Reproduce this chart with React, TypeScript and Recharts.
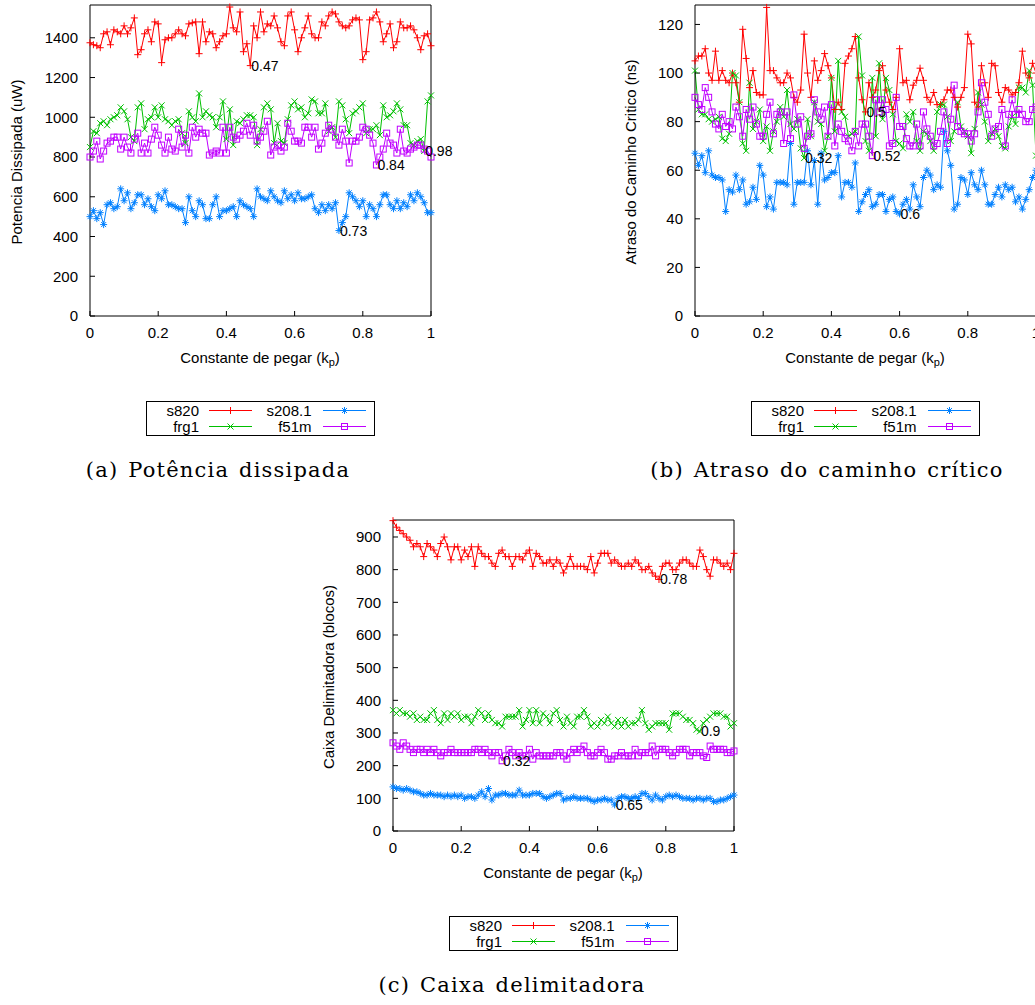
import { LineChart, Line, XAxis, YAxis, ReferenceDot } from "recharts"

// constante de pegar (k_p), 0..1 in steps of 0.01
const KP = [
  0, 0.01, 0.02, 0.03, 0.04, 0.05, 0.06, 0.07, 0.08, 0.09,
  0.1, 0.11, 0.12, 0.13, 0.14, 0.15, 0.16, 0.17, 0.18, 0.19,
  0.2, 0.21, 0.22, 0.23, 0.24, 0.25, 0.26, 0.27, 0.28, 0.29,
  0.3, 0.31, 0.32, 0.33, 0.34, 0.35, 0.36, 0.37, 0.38, 0.39,
  0.4, 0.41, 0.42, 0.43, 0.44, 0.45, 0.46, 0.47, 0.48, 0.49,
  0.5, 0.51, 0.52, 0.53, 0.54, 0.55, 0.56, 0.57, 0.58, 0.59,
  0.6, 0.61, 0.62, 0.63, 0.64, 0.65, 0.66, 0.67, 0.68, 0.69,
  0.7, 0.71, 0.72, 0.73, 0.74, 0.75, 0.76, 0.77, 0.78, 0.79,
  0.8, 0.81, 0.82, 0.83, 0.84, 0.85, 0.86, 0.87, 0.88, 0.89,
  0.9, 0.91, 0.92, 0.93, 0.94, 0.95, 0.96, 0.97, 0.98, 0.99,
  1,
]
const X_TICKS = [0, 0.2, 0.4, 0.6, 0.8, 1]

// (a) Potencia dissipada (uW)
const POT_S820 = [
  1375, 1365, 1360, 1350, 1420, 1430, 1365, 1440, 1430, 1420,
  1460, 1420, 1450, 1500, 1315, 1340, 1420, 1440, 1380, 1480,
  1470, 1275, 1390, 1400, 1400, 1420, 1440, 1420, 1410, 1470,
  1475, 1480, 1320, 1480, 1380, 1430, 1420, 1350, 1380, 1410,
  1420, 1555, 1450, 1430, 1530, 1330, 1370, 1260, 1460, 1400,
  1530, 1430, 1470, 1460, 1510, 1450, 1380, 1360, 1510, 1530,
  1440, 1330, 1400, 1450, 1510, 1420, 1400, 1400, 1480, 1460,
  1510, 1530, 1520, 1480, 1460, 1450, 1460, 1490, 1500, 1490,
  1290, 1330, 1490, 1500, 1530, 1480, 1380, 1420, 1470, 1350,
  1380, 1480, 1450, 1450, 1460, 1440, 1400, 1340, 1410, 1420,
  1360,
]
const POT_FRG1 = [
  850, 930, 920, 970, 980, 960, 990, 1000, 1010, 1050,
  1030, 990, 900, 880, 1050, 1070, 940, 990, 1000, 1050,
  1000, 1060, 990, 980, 960, 980, 990, 920, 870, 1030,
  1000, 980, 1120, 1000, 1030, 1010, 1000, 950, 1000, 1080,
  890, 1040, 860, 980, 970, 990, 1010, 1010, 1000, 860,
  940, 1050, 1070, 1040, 870, 970, 880, 870, 990, 1060,
  1080, 1040, 1050, 1000, 1020, 1090, 1080, 1020, 1020, 1070,
  930, 950, 900, 1080, 1060, 990, 920, 1020, 1030, 1050,
  1070, 920, 940, 940, 960, 910, 1060, 1000, 1010, 1030,
  1070, 1040, 960, 960, 870, 860, 880, 890, 830, 1080,
  1110,
]
const POT_S2081 = [
  500, 530, 490, 520, 460, 560, 570, 540, 550, 640,
  580, 620, 540, 570, 610, 610, 560, 590, 550, 530,
  610, 590, 630, 560, 560, 550, 540, 540, 470, 600,
  530, 500, 580, 560, 490, 490, 560, 600, 500, 530,
  530, 540, 550, 500, 580, 560, 550, 540, 500, 640,
  600, 590, 580, 630, 600, 580, 570, 630, 590, 610,
  580, 620, 590, 590, 600, 610, 540, 520, 560, 530,
  560, 540, 570, 430, 470, 500, 620, 600, 580, 550,
  580, 500, 560, 540, 500, 560, 610, 610, 560, 540,
  580, 540, 570, 550, 610, 580, 620, 600, 570, 520,
  520,
]
const POT_F51M = [
  800, 830, 880, 790, 830, 870, 880, 900, 900, 840,
  900, 850, 820, 890, 920, 820, 870, 820, 890, 950,
  910, 860, 820, 900, 840, 830, 940, 850, 910, 820,
  950, 900, 940, 920, 920, 810, 820, 830, 820, 950,
  820, 950, 900, 890, 910, 930, 970, 910, 960, 880,
  900, 930, 980, 810, 850, 860, 830, 850, 970, 930,
  880, 880, 870, 950, 950, 900, 950, 840, 870, 920,
  960, 940, 900, 860, 940, 880, 770, 880, 880, 900,
  950, 940, 910, 870, 760, 800, 840, 920, 870, 860,
  820, 940, 830, 820, 840, 850, 860, 860, 840, 830,
  800,
]

// (b) Atraso do caminho critico (ns)
const ATR_S820 = [
  105, 107, 107, 110, 100, 97, 109, 97, 101, 97,
  96, 100, 96, 88, 118, 106, 94, 101, 92, 91,
  91, 127, 101, 101, 98, 96, 96, 100, 98, 90,
  88, 93, 116, 100, 90, 105, 97, 101, 108, 103,
  98, 85, 88, 85, 104, 107, 110, 115, 98, 89,
  84, 96, 90, 93, 101, 103, 93, 88, 85, 90,
  110, 96, 97, 89, 95, 97, 102, 97, 90, 88,
  92, 87, 87, 89, 93, 93, 90, 86, 90, 94,
  116, 112, 88, 86, 103, 96, 90, 104, 103, 92,
  88, 94, 93, 91, 92, 96, 109, 100, 98, 104,
  100,
]
const ATR_FRG1 = [
  101, 85, 83, 83, 81, 80, 81, 82, 73, 72,
  75, 100, 99, 88, 71, 68, 96, 77, 80, 85,
  72, 78, 68, 76, 80, 86, 82, 93, 79, 77,
  81, 69, 65, 81, 74, 88, 80, 79, 68, 74,
  98, 76, 105, 84, 82, 74, 75, 76, 115, 99,
  72, 68, 98, 74, 104, 81, 98, 93, 83, 72,
  71, 69, 83, 80, 84, 72, 68, 76, 75, 72,
  68, 84, 87, 87, 82, 72, 76, 88, 78, 76,
  74, 67, 77, 92, 87, 80, 72, 75, 77, 74,
  70, 69, 78, 82, 79, 94, 94, 92, 101, 95,
  66,
]
const ATR_S2081 = [
  67, 62, 66, 59, 68, 58, 57, 57, 56, 43,
  52, 51, 58, 52, 56, 46, 47, 53, 48, 62,
  58, 45, 49, 44, 55, 55, 55, 54, 71, 46,
  55, 55, 55, 68, 54, 64, 46, 67, 56, 57,
  59, 59, 66, 49, 55, 55, 53, 63, 43, 47,
  50, 52, 45, 46, 50, 50, 43, 48, 49, 43,
  42, 46, 48, 44, 54, 49, 45, 57, 60, 58,
  52, 54, 53, 76, 68, 62, 44, 46, 57, 56,
  50, 59, 54, 52, 60, 54, 46, 46, 50, 53,
  49, 54, 52, 53, 47, 49, 44, 48, 52, 57,
  60,
]
const ATR_F51M = [
  90, 87, 85, 94, 90, 84, 79, 77, 83, 78,
  80, 77, 86, 82, 74, 85, 81, 86, 79, 74,
  74, 83, 88, 75, 83, 84, 71, 84, 73, 91,
  79, 82, 69, 74, 75, 89, 84, 81, 86, 74,
  87, 70, 79, 76, 73, 72, 68, 76, 70, 79,
  79, 74, 66, 89, 84, 89, 85, 70, 71, 90,
  78, 78, 73, 70, 70, 79, 70, 84, 77, 74,
  70, 71, 76, 84, 71, 81, 95, 78, 76, 75,
  75, 72, 75, 84, 96, 88, 83, 74, 77, 78,
  85, 70, 83, 89, 83, 85, 83, 80, 80, 85,
  86,
]

// (c) Caixa delimitadora (blocos)
const CAIXA_S820 = [
  950, 930, 920, 910, 900, 890, 870, 880, 870, 840,
  880, 870, 860, 840, 880, 900, 870, 830, 870, 870,
  830, 860, 840, 870, 810, 870, 850, 840, 840, 820,
  810, 850, 860, 840, 840, 810, 840, 840, 830, 850,
  860, 810, 850, 840, 820, 820, 830, 810, 830, 820,
  790, 810, 840, 810, 810, 810, 810, 800, 840, 790,
  820, 850, 850, 850, 820, 830, 820, 810, 810, 820,
  810, 830, 820, 800, 800, 810, 790, 780, 770, 810,
  820, 820, 800, 800, 820, 830, 830, 820, 810, 810,
  860, 840, 800, 780, 830, 830, 820, 810, 820, 800,
  850,
]
const CAIXA_FRG1 = [
  370, 360, 370, 360, 360, 350, 360, 340, 350, 340,
  340, 360, 370, 340, 330, 360, 340, 360, 350, 360,
  340, 350, 350, 330, 350, 370, 360, 340, 360, 340,
  330, 330, 320, 350, 350, 350, 350, 370, 320, 340,
  370, 330, 370, 330, 360, 350, 330, 360, 370, 340,
  320, 350, 330, 320, 350, 350, 370, 350, 320, 330,
  320, 340, 330, 350, 330, 320, 340, 320, 340, 320,
  330, 330, 340, 370, 330, 310, 320, 330, 330, 330,
  330, 310, 360, 360, 360, 350, 340, 340, 330, 310,
  305, 330, 340, 350, 360, 360, 360, 350, 350, 320,
  330,
]
const CAIXA_S2081 = [
  135, 130, 130, 125, 130, 125, 120, 120, 115, 110,
  110, 115, 110, 110, 110, 105, 110, 105, 110, 105,
  110, 100, 105, 105, 100, 110, 120, 105, 130, 95,
  110, 110, 115, 115, 110, 110, 110, 125, 110, 110,
  110, 115, 115, 115, 105, 100, 105, 110, 115, 115,
  95, 100, 100, 105, 100, 100, 100, 100, 95, 90,
  95, 95, 100, 95, 95, 80, 100, 105, 105, 100,
  100, 105, 100, 115, 115, 105, 95, 110, 100, 95,
  105, 110, 105, 110, 105, 100, 100, 100, 95, 100,
  100, 95, 100, 100, 90, 90, 95, 95, 100, 105,
  110,
]
const CAIXA_F51M = [
  270, 260, 250, 270, 260, 250, 240, 250, 250, 240,
  250, 240, 250, 240, 230, 240, 240, 250, 240, 240,
  240, 240, 240, 240, 250, 250, 240, 250, 240, 230,
  240, 240, 215, 230, 250, 240, 230, 240, 230, 230,
  250, 220, 240, 230, 230, 230, 230, 230, 240, 240,
  230, 220, 240, 250, 240, 250, 260, 240, 230, 230,
  240, 250, 240, 220, 220, 230, 230, 240, 230, 230,
  230, 250, 230, 240, 240, 240, 260, 230, 250, 250,
  250, 240, 230, 240, 250, 250, 250, 230, 240, 240,
  240, 230, 225, 260, 250, 250, 250, 250, 240, 240,
  245,
]

const POT_TICKS = [0, 200, 400, 600, 800, 1000, 1200, 1400]
const ATR_TICKS = [0, 20, 40, 60, 80, 100, 120]
const CAIXA_TICKS = [0, 100, 200, 300, 400, 500, 600, 700, 800, 900]

// labels at each series' minimum (kp, value)
const POT_MINS = [
  { kp: 0.47, v: 1260, text: "0.47" },
  { kp: 0.98, v: 830, text: "0.98" },
  { kp: 0.73, v: 430, text: "0.73" },
  { kp: 0.84, v: 760, text: "0.84" },
]
const ATR_MINS = [
  { kp: 0.5, v: 84, text: "0.5" },
  { kp: 0.32, v: 65, text: "0.32" },
  { kp: 0.6, v: 42, text: "0.6" },
  { kp: 0.52, v: 66, text: "0.52" },
]
const CAIXA_MINS = [
  { kp: 0.78, v: 770, text: "0.78" },
  { kp: 0.9, v: 305, text: "0.9" },
  { kp: 0.65, v: 80, text: "0.65" },
  { kp: 0.32, v: 215, text: "0.32" },
]

const SERIES = [
  { key: "s820", color: "#ff0000", shape: "plus" },
  { key: "frg1", color: "#00c000", shape: "cross" },
  { key: "s208.1", color: "#0080ff", shape: "star" },
  { key: "f51m", color: "#c000ff", shape: "square" },
]

const toRows = (a: number[], b: number[], c: number[], d: number[]) =>
  KP.map((kp, i) => ({ kp, s820: a[i], frg1: b[i], "s208.1": c[i], f51m: d[i] }))

const SANS = "'Liberation Sans', Arial, sans-serif"
const SERIF = "'DejaVu Serif', serif"

function Marker({ cx, cy, shape, color }: any) {
  if (cx == null || cy == null) return null
  if (shape === "plus")
    return <path d={`M${cx - 3.5},${cy}H${cx + 3.5}M${cx},${cy - 3.5}V${cy + 3.5}`} stroke={color} fill="none" />
  if (shape === "cross")
    return <path d={`M${cx - 3},${cy - 3}L${cx + 3},${cy + 3}M${cx - 3},${cy + 3}L${cx + 3},${cy - 3}`} stroke={color} fill="none" />
  if (shape === "star")
    return (
      <path
        d={`M${cx - 3.5},${cy}H${cx + 3.5}M${cx},${cy - 3.5}V${cy + 3.5}M${cx - 2.5},${cy - 2.5}L${cx + 2.5},${cy + 2.5}M${cx - 2.5},${cy + 2.5}L${cx + 2.5},${cy - 2.5}`}
        stroke={color}
        fill="none"
      />
    )
  return <rect x={cx - 3} y={cy - 3} width={6} height={6} stroke={color} fill="none" />
}

function Legend({ left, top }: { left: number; top: number }) {
  const cols = [
    [SERIES[0], SERIES[1]],
    [SERIES[2], SERIES[3]],
  ]
  return (
    <svg style={{ position: "absolute", left, top }} width={230} height={36}>
      <rect x={0.5} y={0.5} width={228} height={34} fill="#fff" stroke="#000" />
      {cols.map((col, ci) =>
        col.map((s, ri) => {
          const textX = ci === 0 ? 53 : 165.5
          const x1 = ci === 0 ? 63 : 177
          const y = ri === 0 ? 9.5 : 25.5
          return (
            <g key={s.key}>
              <text x={textX} y={y} textAnchor="end" dominantBaseline="central" fontSize={15} fontFamily={SANS}>
                {s.key}
              </text>
              <line x1={x1} x2={x1 + 43} y1={y} y2={y} stroke={s.color} />
              <Marker cx={x1 + 21.5} cy={y} shape={s.shape} color={s.color} />
            </g>
          )
        })
      )}
    </svg>
  )
}

const TICK = { fill: "#000", fontSize: 15, fontFamily: SANS }

function Panel({ left, top, rows, yMax, yTicks, mins, yTitle, yTitleX }: any) {
  return (
    <>
      <div style={{ position: "absolute", left, top }}>
        <LineChart width={460} height={345} data={rows} margin={{ top: 4, right: 28, bottom: 0, left: 0 }}>
          <XAxis
            type="number"
            dataKey="kp"
            domain={[0, 1]}
            ticks={X_TICKS}
            interval={0}
            height={29}
            tickSize={-5}
            tickMargin={16}
            tick={TICK}
            stroke="#000"
          />
          <XAxis xAxisId="top" orientation="top" type="number" dataKey="kp" domain={[0, 1]} ticks={X_TICKS} interval={0} height={1} tickSize={-5} tick={false} stroke="#000" />
          <YAxis
            type="number"
            domain={[0, yMax]}
            ticks={yTicks}
            interval={0}
            width={90}
            tickSize={-5}
            tickMargin={17}
            tick={TICK}
            stroke="#000"
          />
          <YAxis yAxisId="right" orientation="right" type="number" domain={[0, yMax]} ticks={yTicks} interval={0} width={1} tickSize={-5} tick={false} stroke="#000" />
          {mins.map((m: any) => (
            <ReferenceDot
              key={m.text + m.kp}
              x={m.kp}
              y={m.v}
              r={0}
              fill="none"
              stroke="none"
              label={{ value: m.text, position: "right", offset: 1, fill: "#000", fontSize: 14, fontFamily: SANS }}
            />
          ))}
          {SERIES.map((s) => (
            <Line
              key={s.key}
              dataKey={s.key}
              type="linear"
              stroke={s.color}
              strokeWidth={1}
              isAnimationActive={false}
              activeDot={false}
              dot={(p: any) => <Marker key={p.index} cx={p.cx} cy={p.cy} shape={s.shape} color={s.color} />}
            />
          ))}
        </LineChart>
      </div>
      <div
        style={{
          position: "absolute",
          left: left + yTitleX,
          top: top + 162,
          transform: "translate(-50%, -50%) rotate(-90deg)",
          whiteSpace: "nowrap",
          fontSize: 15,
          lineHeight: 1,
          fontFamily: SANS,
        }}
      >
        {yTitle}
      </div>
      <div
        style={{
          position: "absolute",
          left: left + 260,
          top: top + 357,
          transform: "translate(-50%, -50%)",
          whiteSpace: "nowrap",
          fontSize: 15,
          lineHeight: 1,
          fontFamily: SANS,
        }}
      >
        Constante de pegar (k<span style={{ fontSize: 11, position: "relative", top: 3 }}>p</span>)
      </div>
      <Legend left={left + 146} top={top + 401} />
    </>
  )
}

function Caption({ x, y, text }: { x: number; y: number; text: string }) {
  return (
    <div
      style={{
        position: "absolute",
        left: x,
        top: y,
        transform: "translate(-50%, -50%)",
        whiteSpace: "nowrap",
        fontSize: 21,
        letterSpacing: 1.2,
        wordSpacing: 2,
        lineHeight: 1,
        fontFamily: SERIF,
        fontWeight: 300,
      }}
    >
      {text}
    </div>
  )
}

export default function App() {
  return (
    <div style={{ position: "absolute", left: 0, top: 0, width: 1035, height: 1005, overflow: "hidden", background: "#fff" }}>
      <Panel
        left={0}
        top={0}
        rows={toRows(POT_S820, POT_FRG1, POT_S2081, POT_F51M)}
        yMax={1565}
        yTicks={POT_TICKS}
        mins={POT_MINS}
        yTitle="Potencia Dissipada (uW)"
        yTitleX={16}
      />
      <Panel
        left={605}
        top={0}
        rows={toRows(ATR_S820, ATR_FRG1, ATR_S2081, ATR_F51M)}
        yMax={128}
        yTicks={ATR_TICKS}
        mins={ATR_MINS}
        yTitle="Atraso do Caminho Critico (ns)"
        yTitleX={25}
      />
      <Panel
        left={303}
        top={515}
        rows={toRows(CAIXA_S820, CAIXA_FRG1, CAIXA_S2081, CAIXA_F51M)}
        yMax={952}
        yTicks={CAIXA_TICKS}
        mins={CAIXA_MINS}
        yTitle="Caixa Delimitadora (blocos)"
        yTitleX={25}
      />
      <Caption x={218} y={470} text="(a) Potência dissipada" />
      <Caption x={827} y={470} text="(b) Atraso do caminho crítico" />
      <Caption x={512} y={985} text="(c) Caixa delimitadora" />
    </div>
  )
}
